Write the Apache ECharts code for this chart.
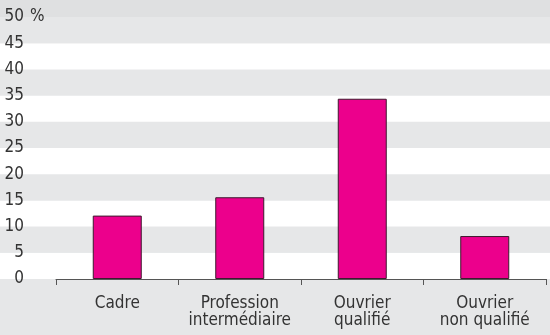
<!DOCTYPE html>
<html>
<head>
<meta charset="utf-8">
<style>
  html, body { margin: 0; padding: 0; background: #e6e7e8; }
  #chart { width: 550px; height: 335px; }
</style>
<script src="https://cdn.jsdelivr.net/npm/echarts@6/dist/echarts.min.js"></script>
</head>
<body>
<div id="chart"></div>
<script>
// Catégories socioprofessionnelles et parts (%)
const categories = ['Cadre', 'Profession\nintermédiaire', 'Ouvrier\nqualifié', 'Ouvrier\nnon qualifié'];
const values = [12.1, 15.6, 34.4, 8.2];
const yTicks = [0, 5, 10, 15, 20, 25, 30, 35, 40, 45, 50];

const FONT = '"DejaVu Sans Condensed", "Liberation Sans Narrow", sans-serif';
const FONT_SIZE = 17;
const TEXT = '#333333';

const chart = echarts.init(document.getElementById('chart'), null, { renderer: 'canvas' });

chart.setOption({
  backgroundColor: '#e6e7e8',
  animation: false,
  graphic: [
    { type: 'rect', shape: { x: 0, y: 0, width: 550, height: 17 }, style: { fill: '#dfe0e1' }, z: -10 },
    {
      type: 'text', x: 30, y: 17, z: 10,
      style: { text: '%', font: FONT_SIZE + 'px ' + FONT, fill: TEXT, verticalAlign: 'middle', align: 'left' }
    }
  ],
  grid: [
    // full-width band background
    { left: 0, right: 0, top: 17, bottom: 56, containLabel: false },
    // plotting area
    { left: 56, right: 4, top: 17, bottom: 56, containLabel: false }
  ],
  xAxis: [
    { gridIndex: 0, type: 'value', show: false, min: 0, max: 1 },
    {
      gridIndex: 1,
      type: 'category',
      data: categories,
      axisLine: { show: true, lineStyle: { color: '#555555', width: 1 } },
      axisTick: { show: true, length: 6, alignWithLabel: false, lineStyle: { color: '#555555' } },
      axisLabel: {
        color: TEXT,
        fontFamily: FONT,
        fontSize: FONT_SIZE,
        lineHeight: 17,
        margin: 16,
        interval: 0
      },
      splitLine: { show: false }
    }
  ],
  yAxis: [
    {
      gridIndex: 0,
      type: 'value',
      min: 0, max: 50, interval: 5,
      axisLine: { show: false },
      axisTick: { show: false },
      axisLabel: { show: false },
      splitLine: { show: false },
      splitArea: { show: true, areaStyle: { color: ['#ffffff', '#e6e7e8'] } }
    },
    {
      gridIndex: 1,
      type: 'value',
      min: yTicks[0], max: yTicks[yTicks.length - 1], interval: 5,
      axisLine: { show: false },
      axisTick: { show: false },
      splitLine: { show: false },
      axisLabel: {
        color: TEXT,
        fontFamily: FONT,
        fontSize: FONT_SIZE,
        margin: 32,
        align: 'right'
      }
    }
  ],
  series: [
    {
      type: 'bar',
      xAxisIndex: 1,
      yAxisIndex: 1,
      data: values,
      barWidth: '40%',
      itemStyle: {
        color: '#ec008c',
        borderColor: '#3d1a2e',
        borderWidth: 1
      }
    }
  ]
});
</script>
</body>
</html>
